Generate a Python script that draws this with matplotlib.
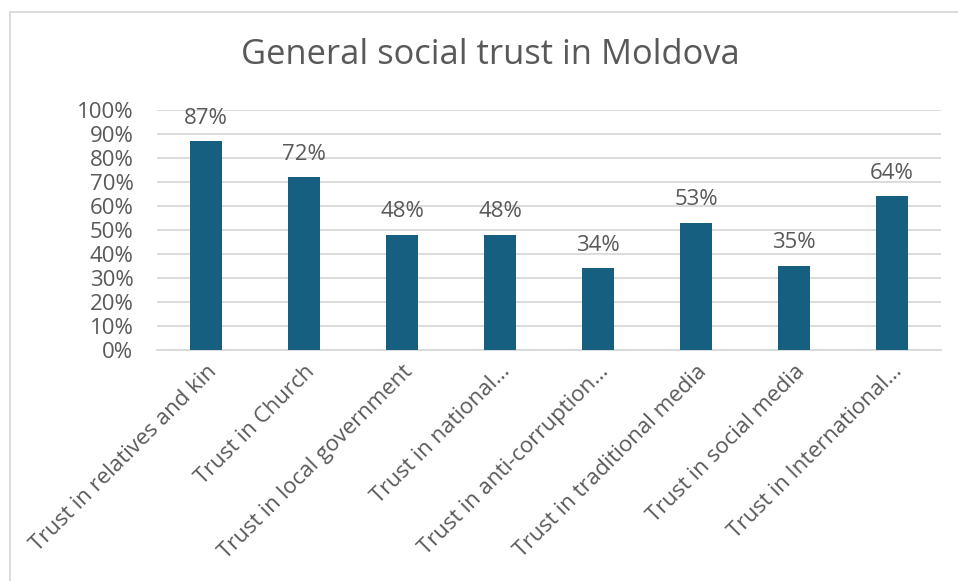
import matplotlib
matplotlib.use("Agg")
import matplotlib.pyplot as plt
from matplotlib.lines import Line2D
from matplotlib.ticker import PercentFormatter, MultipleLocator

categories = [
    "Trust in relatives and kin",
    "Trust in Church",
    "Trust in local government",
    "Trust in national…",
    "Trust in anti-corruption…",
    "Trust in traditional media",
    "Trust in social media",
    "Trust in International…",
]
values = [87, 72, 48, 48, 34, 53, 35, 64]
title = "General social trust in Moldova"

bar_color = "#175f81"
text_color = "#595959"
grid_color = "#d9d9d9"

plt.rcParams["font.family"] = ["Open Sans", "DejaVu Sans"]

W, H = 958, 581
fig = plt.figure(figsize=(W / 100, H / 100), dpi=100)

ax = fig.add_axes([157 / W, 1 - 350 / H, 784 / W, 240 / H])
x = range(len(categories))
bars = ax.bar(x, values, width=0.33, color=bar_color, zorder=3)

ax.set_xlim(-0.5, len(categories) - 0.5)
ax.set_ylim(0, 100)
ax.yaxis.set_major_locator(MultipleLocator(10))
ax.yaxis.set_major_formatter(PercentFormatter(decimals=0))
ax.grid(axis="y", color=grid_color, linewidth=1.3, zorder=0)
for side in ["top", "right", "left"]:
    ax.spines[side].set_visible(False)
ax.spines["bottom"].set_color(grid_color)
ax.spines["bottom"].set_linewidth(1.3)
ax.tick_params(axis="both", length=0, colors=text_color, labelsize=16)
ax.tick_params(axis="y", pad=17)

ax.set_xticks(list(x))
ax.set_xticklabels(categories, rotation=45, ha="right", rotation_mode="anchor")
ax.tick_params(axis="x", pad=8)

for rect, v in zip(bars, values):
    ax.annotate(f"{v}%", (rect.get_x() + rect.get_width() / 2, v),
                xytext=(0, 9), textcoords="offset points",
                ha="center", va="bottom", fontsize=16, color=text_color)

fig.text(490 / W, 1 - 55 / H, title, ha="center", va="center",
         fontsize=24.8, color=text_color)

# thin frame around the chart
fig.add_artist(Line2D([10 / W, 1], [1 - 12 / H, 1 - 12 / H],
                      transform=fig.transFigure, color=grid_color, linewidth=1.3))
fig.add_artist(Line2D([10 / W, 10 / W], [0, 1 - 12 / H],
                      transform=fig.transFigure, color=grid_color, linewidth=1.3))

fig.savefig("out.png", dpi=100, facecolor="white")
